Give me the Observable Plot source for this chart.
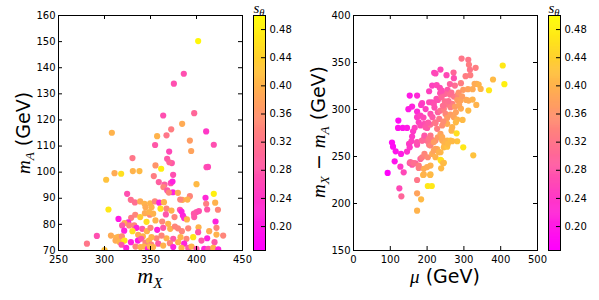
<!DOCTYPE html>
<html><head><meta charset="utf-8">
<script src="https://cdn.jsdelivr.net/npm/d3@7"></script>
<script src="https://cdn.jsdelivr.net/npm/@observablehq/plot@0.6"></script>
<style>
body{margin:0;background:#fff;}
#wrap{position:relative;width:599px;height:300px;overflow:hidden;font-family:"DejaVu Sans",sans-serif;background:#fff;}
.p{position:absolute;top:0;}
.lab{position:absolute;white-space:nowrap;transform:translate(-50%,-50%);color:#000;line-height:1;}
.rot{transform:translate(-50%,-50%) rotate(-90deg);}
.m{font-family:"Liberation Serif",serif;font-style:italic;}
.sub{font-size:70%;position:relative;top:0.3em;}
</style></head><body><div id="wrap"></div>
<script>
// ---- left panel: m_X vs m_A, colored by s_theta
const mX = [401.8,386.2,375.4,397.5,363.8,308,384.4,372.5,410.5,357.2,367.4,392.8,355,418.8,394.2,370.3,330.4,368.1,373.2,370.5,355.4,410.9,412.5,361.6,310.9,318.1,330.8,338,301.8,353.6,374.6,359,400,365.2,364,372,373.9,304.3,324.6,328.6,418.8,409.8,420.3,
333,338.8,343.5,344.6,349.7,349.3,343.9,333.4,329,338.8,315.2,325.8,321.7,326.8,319.2,332.3,334.8,341,346.1,345.7,350,330.4,321.4,336.6,341.7,307,291.7,312.7,315.2,318.9,312,316.3,321.7,328.7,336.3,339.9,344.6,348.3,318.5,323.6,333.7,339.1,342.8,280.9,300,347.2,350.8,
368.2,374.3,370,379.8,384.8,382.3,392.8,390.2,410.5,411.6,423.3,354.8,359.5,364.6,351.1,360.9,367.4,372.8,382,383.7,366.7,376.1,385.2,386.6,389.6,397.2,400,402.6,397.5,352.9,348.6,355.4,362.7,369.2,357.3,363.8,371.4,376.5,379.8,384.1,391,402.2,401.8,413.8,420.7,421.7,429,421.7,396.4,389.1,382.6,374.7,367.4,362,356.5,351.1,411.6,405.4,419.6,371.1,380.1,386.6,358.4,363.8,352.9,374.7,383.7,391,394.6,400,408.4,412.8,418.2,423.6,349.3];
const mA = [150.2,137.7,133.9,122.6,121.7,115.1,118.5,116.4,115.6,113.8,114.1,112.1,110.4,110.5,108.1,107.9,105.4,105.1,103.5,103.8,102.6,101.9,102,101.3,99.6,99.4,100.4,100.4,97.1,98.5,99,96.2,95.4,95.2,94.3,95.8,96.4,85.7,91.7,89.4,91.7,90.2,88.3,
88.4,88.8,87.9,86.6,88.1,83.7,84.3,83.7,82.5,82.8,82.1,80.8,80.5,79.6,79.6,79.6,78.7,78.3,77.4,81,78.7,77.4,77.6,76,75.4,75.7,75.6,74.9,75.2,75.4,73.8,73.3,73.8,73.2,73.8,74.5,73,73.8,72.2,71,71.5,71.3,71.5,72.6,70.2,70.6,72.3,
93,92.3,92.2,92.1,89.4,89.5,90.8,89.5,87.9,85.7,85.6,88.8,88.3,88.5,86.6,86,86,85.3,85.6,84.9,83.8,82.8,83.4,82.4,81.9,84.1,84.7,85.1,82.8,84.1,84.7,81.5,81.1,80.2,77.9,78.7,78.3,79.2,78.5,77.4,78.5,78.9,77,77.4,81.1,78.7,75.7,76.1,75.1,74.5,75.1,74.5,74.7,75.7,74.7,75.1,74.7,73.8,73.2,72.8,73.2,72.6,72.6,71.9,71.3,71.3,71,71,71.5,70.6,70.6,70.6,71,70.4,71.5];
const sL = [0.49,0.27,0.27,0.30,0.27,0.40,0.39,0.33,0.24,0.40,0.32,0.37,0.28,0.27,0.38,0.26,0.32,0.28,0.28,0.30,0.36,0.27,0.26,0.48,0.39,0.46,0.40,0.41,0.42,0.33,0.27,0.29,0.41,0.29,0.34,0.27,0.21,0.47,0.27,0.31,0.48,0.22,0.40,
0.31,0.39,0.40,0.39,0.40,0.34,0.39,0.34,0.33,0.43,0.20,0.21,0.39,0.34,0.28,0.34,0.21,0.28,0.40,0.46,0.34,0.46,0.21,0.39,0.40,0.39,0.27,0.40,0.40,0.35,0.39,0.40,0.47,0.21,0.20,0.28,0.34,0.40,0.28,0.21,0.34,0.40,0.40,0.32,0.42,0.21,0.34,
0.28,0.21,0.34,0.39,0.39,0.34,0.34,0.40,0.33,0.28,0.34,0.34,0.21,0.40,0.40,0.46,0.34,0.40,0.28,0.21,0.28,0.34,0.21,0.22,0.40,0.28,0.28,0.27,0.28,0.40,0.40,0.40,0.34,0.40,0.21,0.28,0.40,0.34,0.34,0.34,0.34,0.40,0.28,0.39,0.21,0.34,0.34,0.40,0.47,0.34,0.40,0.28,0.40,0.34,0.34,0.40,0.21,0.28,0.28,0.34,0.40,0.21,0.28,0.40,0.40,0.21,0.40,0.28,0.40,0.28,0.21,0.28,0.40,0.21,0.40];

// ---- right panel: mu vs m_X - m_A
const mu = [293.7,311.9,313.7,331.9,316.4,405.5,236.4,219.2,222.8,252.8,271.9,272.8,304.6,317.3,213.7,234.6,275.5,291.9,329.1,334.6,340.1,379.1,410,152.8,172.8,205.5,235.5,255.5,248.2,261.9,272.8,283.7,298.2,311,323.7,345.5,368.2,149.2,159.2,172.8,186.4,183.7,205.5,212.8,218.3,225.5,229.2,239.2,248.2,254.6,263.7,268.2,281.9,291,306.4,312.8,323.7,333.7,311.9,
121.9,121,133.7,145.5,161.9,159.2,172.8,177.3,181.9,190.1,192.8,200.1,209.2,214.6,221.9,229.2,236.4,245.5,250.1,254.6,263.7,272.8,278.2,281.9,291.9,296.4,104.6,107.4,114.6,129.2,145.5,151,152.8,157.3,172.8,186.4,192.8,198.3,205.5,209.2,212.8,222.8,229.2,236.4,241,247.3,254.6,263.7,266.4,278.2,280.1,281.9,
111.9,127.4,136.4,152.8,159.2,168.3,177.3,181.9,186.4,192.8,201.9,209.2,213.7,218.3,227.3,236.4,238.2,245.5,254.6,298.2,325.5,92.8,124.6,130.1,172.8,172.8,183.7,189.2,201.9,212.8,208.3,172.8,238.2,245.5,190.9,
166.4,181.9,195.5,209.1,222.8,227.3,241,254.6,268.2,172.8,186.4,192.8,204.6,209.1,218.2,222.8,231.9,241,250,256.4,268.2,154.6,163.7,177.3,200,222.8,236.4,243.7,191,209.1,
196,220,243,258,266,240,226,262,286,295,276,287,203,233,244];
const dm = [354.2,352.8,347.5,344.3,342.2,346.8,342.5,339,338.3,336.5,339.3,333.3,335.4,336.5,325.5,323,325.5,328,327.3,327.3,326.5,331.9,326.9,314.8,314.8,319.4,317.3,320.9,316.6,315.9,313.8,315.5,320.9,321.6,321.6,321.9,320.5,300.3,303.1,297.8,306.7,304.9,307.7,307.7,306,311.3,310.2,313,308.8,305.3,302.4,306,310.2,309.5,310.2,309.5,310.6,304.9,298.9,
288.2,280.4,280.4,280.4,276.8,271.2,291.8,286.4,293.5,291.4,284.7,280.4,295.3,291.8,286.4,297.1,298.9,300.6,295.3,291,294.6,291.8,297.1,289.3,301,288.9,264.8,260.5,255.5,252.7,255.2,263.4,259.8,266.2,262.6,266.9,270.5,266.9,262.6,272.2,267.6,266.9,270.5,274,266.9,263.4,266.9,266.9,277.5,286.4,274.7,266.2,
244.9,239.2,233.2,243.1,241.3,242.8,237.8,247.4,249.2,252.7,249.2,240.3,252.7,256.3,258,254.5,245.6,259.8,260.5,259.8,251.3,232.5,216.1,207.6,225,210.8,204.4,230.3,218.6,218.6,230.3,192.4,237.4,243.3,236.9,
280.5,283,281.2,284,285.5,279.4,283,284.8,281.2,265.3,267,272.3,268.8,261.7,265.3,258.2,254.6,270.6,265.3,263.5,266.3,244,242.9,240.4,238.7,249.3,246.5,242.9,230.9,230.9,
300.5,302,304,309,318,320,326,327,318,314,303,305,286,290,287];
const sR = [0.32,0.32,0.33,0.33,0.32,0.47,0.26,0.25,0.26,0.26,0.30,0.27,0.33,0.33,0.25,0.26,0.31,0.33,0.39,0.39,0.40,0.41,0.48,0.20,0.22,0.25,0.27,0.28,0.30,0.31,0.32,0.34,0.37,0.38,0.39,0.40,0.47,0.20,0.21,0.22,0.25,0.24,0.26,0.26,0.27,0.27,0.27,0.30,0.31,0.32,0.33,0.33,0.37,0.38,0.39,0.39,0.40,0.40,0.41,
0.18,0.19,0.19,0.20,0.24,0.24,0.24,0.25,0.25,0.26,0.27,0.28,0.27,0.28,0.31,0.29,0.31,0.33,0.34,0.37,0.37,0.38,0.38,0.40,0.39,0.41,0.18,0.18,0.19,0.20,0.23,0.24,0.24,0.25,0.26,0.28,0.29,0.31,0.32,0.32,0.33,0.35,0.37,0.38,0.39,0.40,0.41,0.42,0.40,0.41,0.46,0.42,
0.19,0.24,0.26,0.27,0.28,0.29,0.33,0.29,0.33,0.34,0.35,0.40,0.39,0.38,0.40,0.41,0.47,0.41,0.42,0.47,0.42,0.17,0.26,0.30,0.32,0.38,0.41,0.41,0.47,0.47,0.41,0.40,0.41,0.42,0.39,
0.25,0.26,0.28,0.31,0.32,0.33,0.35,0.39,0.40,0.27,0.30,0.28,0.32,0.34,0.37,0.38,0.40,0.39,0.40,0.41,0.41,0.30,0.31,0.33,0.39,0.40,0.46,0.41,0.40,0.41,
0.25,0.27,0.31,0.31,0.31,0.27,0.26,0.29,0.36,0.37,0.37,0.38,0.28,0.32,0.35];

// ---- axes / colorbar
const leftXTicks = [250,300,350,400,450];
const leftYTicks = [70,80,90,100,110,120,130,140,150,160];
const rightXTicks = [0,100,200,300,400,500];
const rightYTicks = [150,200,250,300,350,400];
const cTicks = [0.20,0.24,0.28,0.32,0.36,0.40,0.44,0.48];
const sMin = 0.166, sMax = 0.50;

const colorScale = {type:"linear", domain:[sMin, sMax], range:["#ff00ff","#ffff00"], interpolate:"rgb"};
const baseStyle = {fontFamily:"DejaVu Sans", fontSize:"10px", color:"#000", background:"transparent", overflow:"visible"};

function panel(xs, ys, ss, xDomain, yDomain, xTicks, yTicks) {
  const data = xs.map((x, i) => ({x, y: ys[i], s: ss[i]}));
  return Plot.plot({
    width: 250, height: 300, marginLeft: 58, marginRight: 8, marginTop: 15, marginBottom: 50,
    style: baseStyle,
    x: {domain: xDomain, label: null},
    y: {domain: yDomain, label: null},
    color: colorScale,
    marks: [
      Plot.dot(data, {x: "x", y: "y", r: 3.1, fill: "s", stroke: "none", clip: true}),
      Plot.axisX(xTicks, {tickSize: 0, tickPadding: 5, label: null}),
      Plot.axisY(yTicks, {tickSize: 0, tickPadding: 3, label: null}),
      Plot.tickX(xTicks, {x: d => d, insetTop: 231, stroke: "#000"}),
      Plot.tickX(xTicks, {x: d => d, insetBottom: 231, stroke: "#000"}),
      Plot.tickY(yTicks, {y: d => d, insetRight: 180, stroke: "#000"}),
      Plot.tickY(yTicks, {y: d => d, insetLeft: 180, stroke: "#000"}),
      Plot.frame({stroke: "#000"})
    ]
  });
}

function colorbar() {
  const n = 240, step = (sMax - sMin) / n;
  const steps = d3.range(n).map(i => sMin + step * i);
  return Plot.plot({
    width: 60, height: 300, marginLeft: 8, marginRight: 40, marginTop: 15, marginBottom: 50,
    style: baseStyle,
    x: {domain: [0, 1], axis: null},
    y: {domain: [sMin, sMax], label: null},
    color: colorScale,
    marks: [
      Plot.rect(steps, {x1: 0, x2: 1, y1: d => d, y2: d => Math.min(sMax, d + step * 1.6), fill: d => d + step / 2}),
      Plot.tickY(cTicks, {y: d => d, insetLeft: 8, stroke: "#000"}),
      Plot.axisY(cTicks, {anchor: "right", tickSize: 0, tickPadding: 4, tickFormat: d => d.toFixed(2), label: null}),
      Plot.frame({stroke: "#000"})
    ]
  });
}

const wrap = document.getElementById("wrap");
function place(node, left) { node.classList.add("p"); node.style.left = left + "px"; wrap.appendChild(node); }
place(panel(mX, mA, sL, [250, 450], [70, 160], leftXTicks, leftYTicks), 0);
place(colorbar(), 245);
place(panel(mu, dm, sR, [0, 500], [150, 400], rightXTicks, rightYTicks), 295);
place(colorbar(), 540);

function label(html, x, y, size, rot) {
  const d = document.createElement("div");
  d.className = "lab" + (rot ? " rot" : "");
  d.style.left = x + "px"; d.style.top = y + "px"; d.style.fontSize = size + "px";
  d.innerHTML = html;
  wrap.appendChild(d);
}
label('<span class="m">m<span class="sub">A</span></span> (GeV)', 23, 133, 19, true);
label('<span class="m">m<span class="sub">X</span></span>', 150, 276, 22, false);
label('<span class="m">m<span class="sub">X</span></span> − <span class="m">m<span class="sub">A</span></span> (GeV)', 318, 132, 19, true);
label('<span class="m">μ</span> (GeV)', 445, 276, 19, false);
label('<span class="m">s<span class="sub">θ</span></span>', 259, 8, 15, false);
label('<span class="m">s<span class="sub">θ</span></span>', 554, 8, 15, false);
</script></body></html>
